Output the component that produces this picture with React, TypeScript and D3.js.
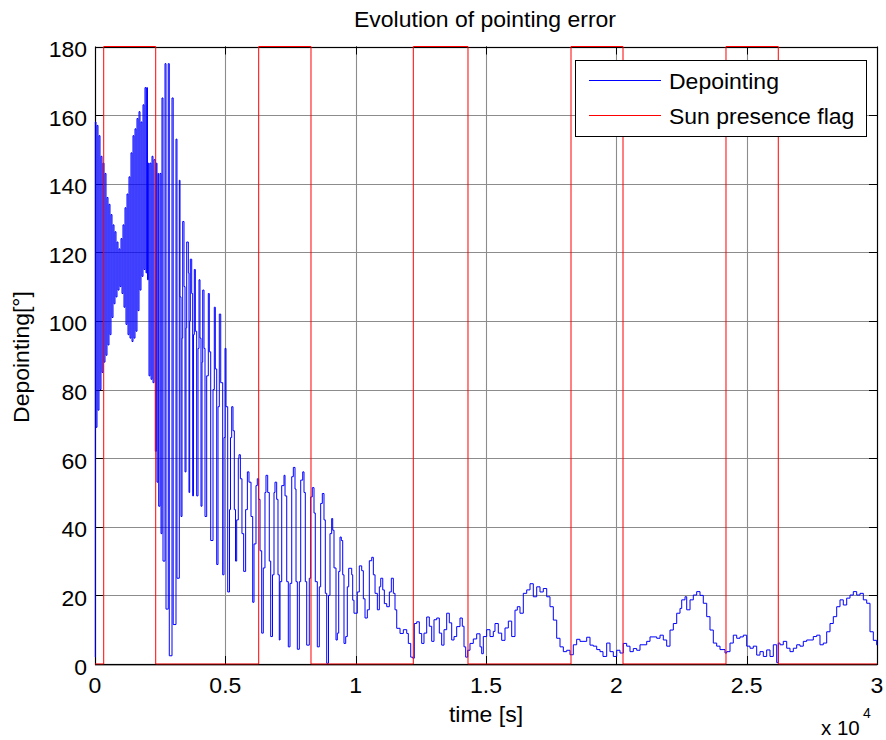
import React from 'react';
import * as d3 from 'd3';

const W = 886;
const H = 740;

const xTicks = [0, 5000, 10000, 15000, 20000, 25000, 30000];
const xTickLabels = ['0', '0.5', '1', '1.5', '2', '2.5', '3'];
const yTicks = [0, 20, 40, 60, 80, 100, 120, 140, 160, 180];

const titleText = 'Evolution of pointing error';
const xLabel = 'time [s]';
const yLabel = 'Depointing[°]';
const legendLabels = ['Depointing', 'Sun presence flag'];

// Sun presence flag (time [s], plotted value)
const sunFlagTime = [0, 334, 2329, 6280, 8286, 12211, 14309, 18261, 20256, 24207, 26213, 30000];
const sunFlagValue = [0, 180, 0, 180, 0, 180, 0, 180, 0, 180, 0, 0];

// Depointing [deg] vs time [s]
const depointingEarly: [number, number][] = [
  [0, 2], [12, 158], [38, 69], [77, 157], [115, 74], [153, 154], [192, 80], [230, 148], [269, 85], [307, 146],
  [345, 88], [384, 143], [422, 90], [460, 136], [499, 93], [537, 134], [575, 96], [614, 131], [652, 101], [691, 128],
  [729, 105], [767, 126], [806, 107], [844, 123], [882, 109], [921, 121], [959, 110], [997, 124], [1036, 108], [1074, 128],
  [1113, 104], [1151, 133], [1189, 99], [1228, 137], [1266, 96], [1304, 142], [1343, 95], [1381, 149], [1420, 94], [1458, 154],
  [1496, 95], [1535, 156], [1573, 97], [1611, 159], [1650, 103], [1688, 161], [1726, 109], [1765, 158], [1803, 113], [1842, 163],
  [1880, 115], [1918, 168], [1957, 114], [1983, 168], [2014, 112], [2045, 146], [2072, 84], [2110, 146], [2149, 83], [2187, 148],
  [2225, 82], [2264, 147], [2313, 62], [2352, 146], [2378, 53], [2417, 143], [2443, 46], [2494, 143], [2532, 38], [2570, 165],
  [2609, 30], [2686, 175], [2724, 16], [2810, 175], [2850, 2.4], [2954, 165], [3000, 11.5], [3107, 153], [3145, 25], [3234, 141],
  [3261, 107], [3299, 43],
];

const depointingOscillation: [number, number][] = [
  [3338, 95], [3364, 129], [3414, 110], [3453, 56], [3491, 98], [3518, 123], [3580, 114], [3606, 50], [3633, 100], [3657, 118],
  [3710, 108], [3747, 49], [3778, 96], [3810, 115], [3849, 97], [3901, 49], [3951, 92], [3990, 112], [4028, 95], [4066, 46],
  [4105, 88], [4132, 109], [4181, 92], [4220, 43], [4285, 84], [4347, 108], [4385, 91], [4439, 36], [4527, 80], [4577, 104],
  [4616, 86], [4669, 29], [4719, 75], [4769, 102], [4823, 82], [4899, 26], [4949, 66], [4988, 92], [5026, 75], [5091, 21],
  [5160, 45], [5198, 66], [5244, 75], [5294, 68], [5345, 45], [5391, 30], [5435, 42], [5497, 60], [5524, 61], [5577, 54],
  [5638, 38], [5703, 27], [5779, 45], [5845, 56], [5907, 53], [5985, 43], [6050, 18], [6100, 35], [6176, 52], [6226, 54],
  [6280, 48], [6330, 33], [6395, 9], [6456, 28], [6521, 50], [6560, 55], [6625, 50], [6686, 30], [6740, 8], [6809, 26],
  [6867, 50], [6905, 53], [6970, 48], [7020, 26], [7070, 7], [7098, 24], [7163, 52], [7251, 55], [7290, 49], [7355, 24],
  [7416, 5], [7481, 23.5], [7547, 54.6], [7608, 57.3], [7673, 51], [7712, 24], [7762, 4.3], [7839, 24], [7892, 53.6], [7969, 56],
  [8018, 50], [8068, 24], [8122, 5.5], [8221, 25], [8275, 48.7], [8336, 51.4], [8402, 44], [8451, 24], [8528, 5], [8605, 22.5],
  [8658, 46.8], [8720, 49.7], [8785, 42], [8835, 20.6], [8889, 0.2], [8958, 20], [9015, 38], [9080, 42.4], [9119, 39], [9169, 28],
  [9246, 7], [9296, 9], [9349, 27], [9399, 37], [9449, 36], [9503, 26], [9552, 6], [9618, 8], [9679, 22.5], [9733, 27.9],
  [9848, 26], [9886, 18.6], [9936, 14.8], [10063, 21], [10140, 28.6], [10232, 27.2], [10294, 19], [10359, 13.4], [10447, 15.8], [10524, 30.1],
  [10616, 31.1], [10678, 26], [10743, 20.6], [10832, 15.8], [10908, 22.5], [10962, 25], [11039, 21.6], [11100, 17.6], [11192, 16.7], [11292, 21],
  [11368, 25], [11445, 20.6], [11509, 15.8], [11575, 10.4],
];

const depointingLate: [number, number][] = [
  [11702, 8.9], [11829, 10], [11959, 8.9], [12020, 6], [12112, 2], [12189, 1.7], [12250, 11.8], [12342, 12.3], [12442, 8.9], [12533, 6],
  [12621, 9], [12725, 13.7], [12825, 11], [12917, 6.6], [13005, 12.9], [13109, 13.4], [13209, 9], [13300, 5.5], [13389, 10], [13492, 14.8],
  [13592, 12], [13684, 7], [13773, 8], [13876, 10.9], [14003, 13.4], [14091, 11], [14156, 5], [14221, 2], [14298, 4], [14386, 6],
  [14513, 7.3], [14643, 8.8], [14770, 5], [14835, 3], [14897, 8], [15026, 10], [15153, 8], [15280, 9.5], [15345, 11.8], [15472, 9],
  [15602, 6.9], [15729, 10.5], [15856, 12.5], [15986, 8], [16112, 15.7], [16201, 16.7], [16304, 14.8], [16431, 20.6], [16562, 21.6], [16688, 23.4],
  [16815, 19.6], [16945, 22.5], [17072, 21], [17198, 22], [17329, 19.6], [17455, 16.7], [17582, 12.8], [17712, 7.5], [17839, 5], [17966, 3.6],
  [18096, 4], [18222, 2.7], [18349, 5.6], [18478, 7.2], [18606, 6.6], [18721, 6.6], [18863, 7.8], [18990, 5.5], [19116, 5.2], [19247, 4.2],
  [19373, 3.6], [19488, 2.2], [19630, 6.1], [19757, 3.6], [19884, 2.2], [20014, 4], [20141, 3.2], [20267, 6], [20397, 5.2], [20524, 3.6],
  [20651, 4.5], [20781, 4], [20908, 5.6], [21165, 6.6], [21292, 7.9], [21549, 7.5], [21676, 8.4], [21802, 7], [21932, 5.2], [22059, 9.9],
  [22186, 11.8], [22316, 14.8], [22443, 16.2], [22508, 18.7], [22635, 19.6], [22700, 15.8], [22827, 18.7], [22953, 20.1], [23083, 21.1], [23210, 20],
  [23336, 17.7], [23467, 13.8], [23593, 9.9], [23720, 6.1], [23850, 5.2], [23977, 4.2], [24169, 3.2], [24234, 3.6], [24361, 6.1], [24487, 8.4],
  [24618, 7.5], [24744, 7.9], [24871, 8.4], [25001, 5.2], [25128, 4.6], [25254, 5.2], [25385, 2.6], [25511, 3.6], [25638, 2.2], [25768, 4.1],
  [25895, 2.2], [26022, 5.6], [26152, 0.4], [26213, 6.1], [26279, 5.6], [26405, 6.6], [26536, 4.6], [26662, 3.6], [26789, 4.6], [26919, 5.6],
  [27046, 5.2], [27173, 6.6], [27303, 7], [27430, 7], [27556, 8], [27687, 8.4], [27813, 5.6], [27940, 6.1], [28070, 9.4], [28197, 11.8],
  [28324, 13.8], [28454, 16.7], [28581, 18.7], [28707, 17.2], [28838, 19.2], [28964, 20.1], [29091, 21.1], [29221, 20.1], [29348, 20.6], [29475, 18.7],
  [29605, 17.7], [29731, 9.4], [29858, 6.9], [29988, 5.6], [30000, 5.5],
];

const FONT = 'Liberation Sans, Arial, Helvetica, sans-serif';

function T({ x, y, anchor = 'start', size = 21.5, rotate = 0, sx = 1.07, children }: { x: number; y: number; anchor?: string; size?: number; rotate?: number; sx?: number; children: React.ReactNode }) {
  return (
    <g transform={`translate(${x},${y}) rotate(${rotate}) scale(${sx},1)`}>
      <text x={0} y={0} textAnchor={anchor as any} fontSize={size} fill="#000">
        {children}
      </text>
    </g>
  );
}

export default function App() {
  const left = 95, right = 877, top = 46.5, bottom = 664;
  const x = d3.scaleLinear().domain([0, 30000]).range([left, right]);
  const y = d3.scaleLinear().domain([0, 180]).range([bottom, top]);

  const depointing = [...depointingEarly, ...depointingOscillation, ...depointingLate];
  const sunFlag: [number, number][] = sunFlagTime.map((t, i) => [t, sunFlagValue[i]]);

  const line = d3
    .line<[number, number]>()
    .x((d) => x(d[0]))
    .y((d) => y(d[1]))
    .curve(d3.curveStepAfter);

  const px = (v: number) => Math.round(v) + 0.5;

  return (
    <svg
      width={W}
      height={H}
      viewBox={`0 0 ${W} ${H}`}
      style={{ position: 'absolute', left: 0, top: 0, background: '#fff' }}
      fontFamily={FONT}
    >
      <defs>
        <clipPath id="plotClip">
          <rect x={left - 1} y={top - 1} width={right - left + 2} height={bottom - top + 2} />
        </clipPath>
      </defs>
      <rect x={0} y={0} width={W} height={H} fill="#fff" />

      {/* grid */}
      {xTicks.slice(1, -1).map((t) => (
        <line key={'gx' + t} x1={px(x(t))} x2={px(x(t))} y1={top} y2={bottom} stroke="#8c8c8c" strokeWidth={1.1} />
      ))}
      {yTicks.slice(1, -1).map((v) => (
        <line key={'gy' + v} x1={left} x2={right} y1={px(y(v))} y2={px(y(v))} stroke="#8c8c8c" strokeWidth={1.1} />
      ))}

      {/* axes box */}
      <rect x={px(left)} y={px(top)} width={Math.round(right) - Math.round(left)} height={Math.round(bottom) - Math.round(top)} fill="none" stroke="#000" strokeWidth={1.2} />

      {/* ticks */}
      {xTicks.map((t) => (
        <g key={'tx' + t}>
          <line x1={px(x(t))} x2={px(x(t))} y1={bottom} y2={bottom - 8} stroke="#000" />
          <line x1={px(x(t))} x2={px(x(t))} y1={top} y2={top + 8} stroke="#000" />
        </g>
      ))}
      {yTicks.map((v) => (
        <g key={'ty' + v}>
          <line x1={left} x2={left + 8} y1={px(y(v))} y2={px(y(v))} stroke="#000" />
          <line x1={right} x2={right - 8} y1={px(y(v))} y2={px(y(v))} stroke="#000" />
        </g>
      ))}

      {/* data */}
      <g clipPath="url(#plotClip)">
        <path d={line(depointing) || ''} fill="none" stroke="#0000ff" strokeWidth={1} />
        <path d={line(sunFlag) || ''} fill="none" stroke="#ff0000" strokeWidth={1} />
      </g>
      <line x1={left} x2={right} y1={bottom + 1} y2={bottom + 1} stroke="#000" strokeWidth={1} opacity={0.6} />

      {/* tick labels */}
      {xTicks.map((t, i) => (
        <T key={'lx' + t} x={x(t)} y={693} anchor="middle">{xTickLabels[i]}</T>
      ))}
      {yTicks.map((v) => (
        <T key={'ly' + v} x={87} y={y(v) + 10.5} anchor="end">{String(v)}</T>
      ))}

      {/* exponent */}
      <T x={821} y={735} sx={1} size={20.5}>x 10</T>
      <T x={863} y={718} sx={1} size={14}>4</T>

      {/* labels */}
      <T x={485} y={27} anchor="middle">{titleText}</T>
      <T x={486} y={722} anchor="middle">{xLabel}</T>
      <T x={29} y={357} anchor="middle" rotate={-90}>{yLabel}</T>

      {/* legend */}
      <g>
        <rect x={575.5} y={60.5} width={291} height={76} fill="#fff" stroke="#000" strokeWidth={1} />
        <line x1={589} x2={661} y1={80.5} y2={80.5} stroke="#0000ff" strokeWidth={1} />
        <line x1={589} x2={661} y1={115.5} y2={115.5} stroke="#ff0000" strokeWidth={1} />
        <T x={669} y={89}>{legendLabels[0]}</T>
        <T x={669} y={124}>{legendLabels[1]}</T>
      </g>
    </svg>
  );
}
